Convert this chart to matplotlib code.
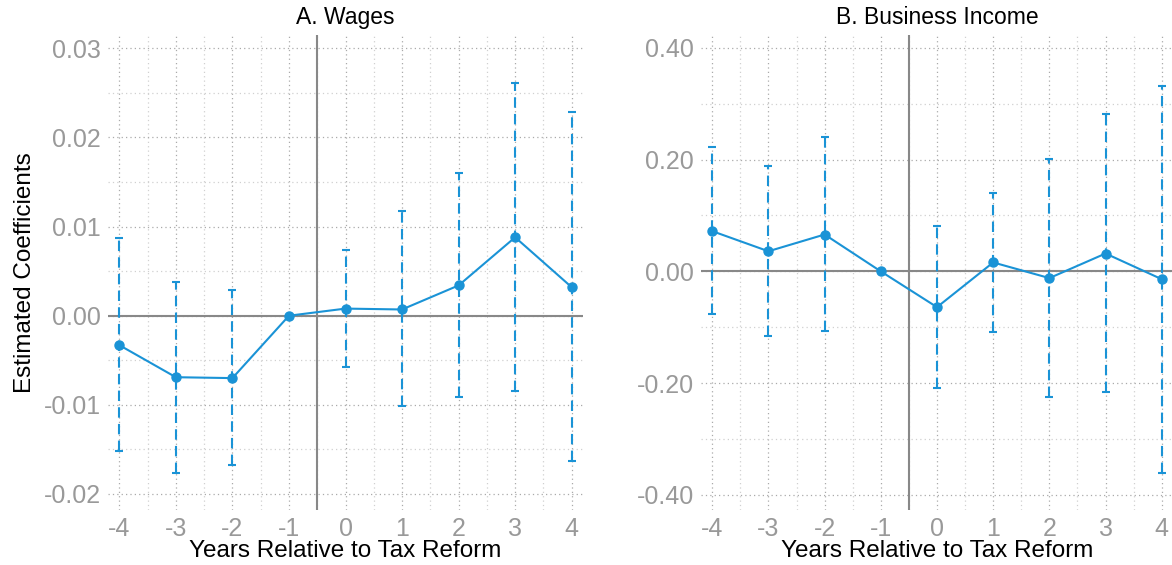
import numpy as np
import matplotlib
matplotlib.use("Agg")
import matplotlib.pyplot as plt
from matplotlib.ticker import MultipleLocator, FormatStrFormatter

plt.rcParams['font.family'] = ['Liberation Sans', 'DejaVu Sans']
plt.rcParams['axes.unicode_minus'] = False

years = [-4, -3, -2, -1, 0, 1, 2, 3, 4]

# panel A: wages
wage_coef = [-0.0033, -0.0069, -0.0070, 0.0, 0.0008, 0.0007, 0.0034, 0.0088, 0.0032]
wage_hi = [0.0087, 0.0038, 0.0029, 0.0, 0.0074, 0.0117, 0.0160, 0.0261, 0.0229]
wage_lo = [-0.0152, -0.0176, -0.0168, 0.0, -0.0058, -0.0101, -0.0091, -0.0084, -0.0163]

# panel B: business income
bus_coef = [0.072, 0.036, 0.066, 0.0, -0.064, 0.016, -0.012, 0.032, -0.014]
bus_hi = [0.223, 0.189, 0.241, 0.0, 0.081, 0.141, 0.201, 0.282, 0.332]
bus_lo = [-0.076, -0.115, -0.106, 0.0, -0.209, -0.109, -0.225, -0.216, -0.361]

blue = '#1a93d6'
gray_txt = '#999999'

fig = plt.figure(figsize=(11.72, 5.65), dpi=100)
ax1 = fig.add_axes([108/1172, 55/565, 475/1172, 475/565])
ax2 = fig.add_axes([701/1172, 55/565, 472/1172, 475/565])


def panel(ax, coef, lo, hi, title, ylim, major, minor, fmt):
    x = np.array(years)
    coef = np.array(coef)
    lo = np.array(lo)
    hi = np.array(hi)
    ax.set_xlim(-4.2, 4.2)
    ax.set_ylim(*ylim)
    ax.xaxis.set_major_locator(MultipleLocator(1))
    ax.xaxis.set_minor_locator(MultipleLocator(0.5))
    ax.yaxis.set_major_locator(MultipleLocator(major))
    ax.yaxis.set_minor_locator(MultipleLocator(minor))
    ax.yaxis.set_major_formatter(FormatStrFormatter(fmt))
    ax.grid(which='major', color='#aaaaaa', linestyle=(0, (1, 2.5)), linewidth=0.9)
    ax.grid(which='minor', color='#d0d0d0', linestyle=(0, (1, 2.5)), linewidth=0.9)
    ax.set_axisbelow(True)
    for s in ax.spines.values():
        s.set_visible(False)
    ax.tick_params(which='both', length=0, labelsize=18, labelcolor=gray_txt, pad=5)
    ax.axhline(0, color='#888888', lw=1.5, zorder=2)
    ax.axvline(-0.5, color='#888888', lw=1.5, zorder=2)
    m = hi != lo
    eb = ax.errorbar(x[m], coef[m], yerr=[coef[m] - lo[m], hi[m] - coef[m]],
                     fmt='none', ecolor=blue, elinewidth=1.5, capsize=3,
                     capthick=1.5, zorder=3)
    eb[2][0].set_linestyle((0, (5, 3)))
    ax.plot(x, coef, color=blue, lw=1.5, marker='o', ms=6.5, zorder=4)
    ax.set_title(title, fontsize=16.5, pad=8)
    ax.set_xlabel('Years Relative to Tax Reform', fontsize=17.5, labelpad=-1)


panel(ax1, wage_coef, wage_lo, wage_hi, 'A. Wages', (-0.0218, 0.0315), 0.01, 0.005, '%.2f')
panel(ax2, bus_coef, bus_lo, bus_hi, 'B. Business Income', (-0.427, 0.423), 0.2, 0.1, '%.2f')
ax1.set_ylabel('Estimated Coefficients', fontsize=17.5, labelpad=6)

fig.savefig('out.png', dpi=100)
